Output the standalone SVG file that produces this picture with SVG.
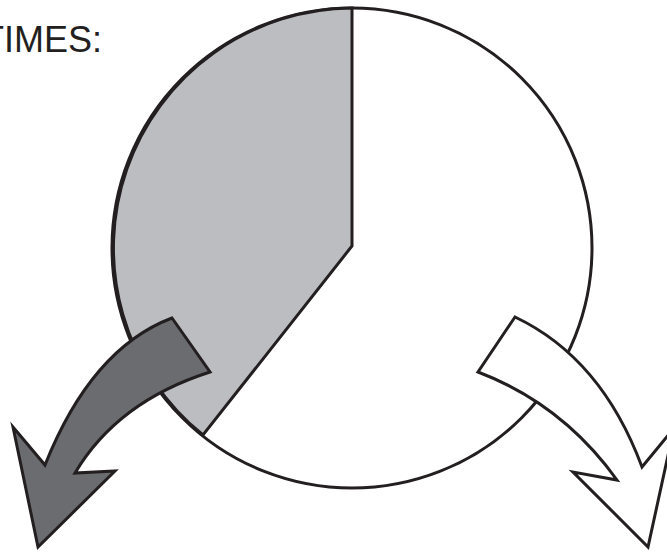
<svg xmlns="http://www.w3.org/2000/svg" width="667" height="552" viewBox="0 0 667 552">
<style>
.ln{stroke:#231f20;stroke-width:3;stroke-linejoin:miter;stroke-miterlimit:10}
.lbl{font-family:"Liberation Sans",Arial,sans-serif;font-size:36px;fill:#231f20}
</style>
<rect width="667" height="552" fill="#ffffff"/>
<g id="title"><text class="lbl" x="102" y="52" text-anchor="end">TIMES:</text></g>
<g id="pie">
<circle class="ln" cx="352" cy="248" r="240" fill="#ffffff"/>
<path class="ln" d="M352,8 A240,240 0 0 0 203,435 L352,246 Z" fill="#bcbdc1"/>
</g>
<g id="connectors">
<g id="arrow-left">
<path class="ln" fill="#6b6c70" d="M172,318 L210,372 Q117.5,401.5 75,473 L115,471 L38,547 L13,427 L45,465 Q91.5,348.5 172,318 Z"/>
</g>
<g id="arrow-right">
<path class="ln" fill="#ffffff" d="M515,317 L478,372 Q562.5,404 617,480 L573,472 L648,547 L674,428 L642,467 Q601.5,358 515,317 Z"/>
</g>
</g>
</svg>
